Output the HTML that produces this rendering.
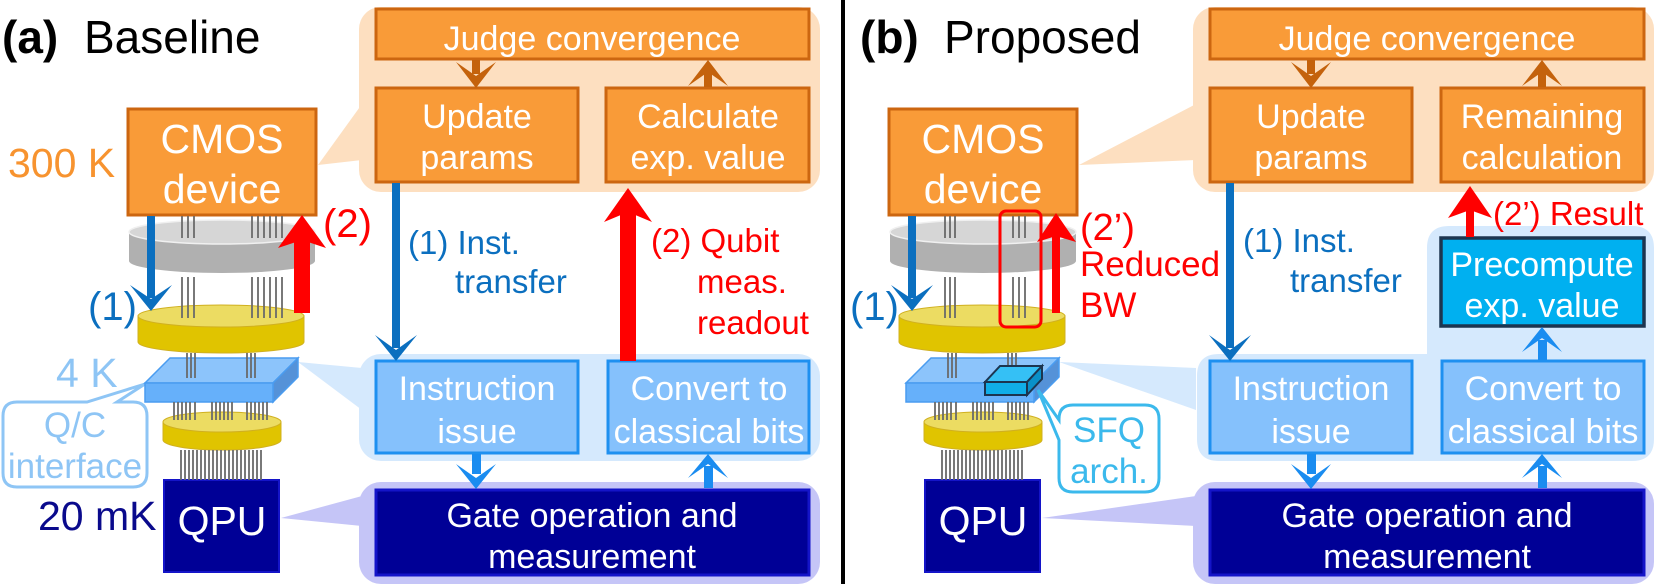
<!DOCTYPE html>
<html><head><meta charset="utf-8"><style>
html,body{margin:0;padding:0;background:#fff;}
svg{display:block;}
text{font-family:"Liberation Sans",sans-serif;}
.bt{fill:#fff;font-size:34px;text-anchor:middle;}
</style></head><body>
<svg width="1661" height="584" viewBox="0 0 1661 584" xmlns="http://www.w3.org/2000/svg">

<!-- ===== LEFT PANEL ===== -->
<text x="2" y="53" font-size="46" font-weight="bold">(a)</text>
<text x="84" y="53" font-size="46">Baseline</text>

<polygon points="318,165 362,104 362,160" fill="#fddfc0"/>
<polygon points="298,362 362,368 362,410" fill="#d5e9fd"/>
<polygon points="281,518 362,496 362,526" fill="#c5c5f7"/>
<rect x="359" y="7" width="461" height="185" rx="22" fill="#fddfc0"/>
<rect x="359" y="354" width="461" height="107" rx="22" fill="#d5e9fd"/>
<rect x="359" y="482" width="461" height="102" rx="22" fill="#c5c5f7"/>

<g fill="#f99b38" stroke="#cc6610" stroke-width="3">
<rect x="376" y="9" width="433" height="50"/>
<rect x="376" y="88" width="202" height="94"/>
<rect x="606" y="88" width="203" height="94"/>
</g>
<text class="bt" x="592" y="50">Judge convergence</text>
<text class="bt" x="477" y="128">Update</text>
<text class="bt" x="477" y="169">params</text>
<text class="bt" x="708" y="128">Calculate</text>
<text class="bt" x="708" y="169">exp. value</text>
<g fill="#c4620c">
<rect x="472" y="60" width="8" height="14"/>
<polygon points="456,62 476,76 496,62 476,88"/>
<rect x="704" y="72" width="8" height="15"/>
<polygon points="688,86 708,72 728,86 708,60"/>
</g>

<g fill="#85c1fc" stroke="#1e90f0" stroke-width="3">
<rect x="376" y="361" width="202" height="92"/>
<rect x="608" y="361" width="201" height="92"/>
</g>
<text class="bt" x="477" y="400">Instruction</text>
<text class="bt" x="477" y="443">issue</text>
<text class="bt" x="709" y="400">Convert to</text>
<text class="bt" x="709" y="443">classical bits</text>
<rect x="376" y="490" width="433" height="85" fill="#000096" stroke="#1414c8" stroke-width="3"/>
<text class="bt" x="592" y="527">Gate operation and</text>
<text class="bt" x="592" y="568">measurement</text>
<g fill="#1a8cf0">
<rect x="472" y="454" width="9" height="20"/>
<polygon points="456,464 476,478 496,464 476,489"/>
<rect x="704" y="466" width="9" height="22"/>
<polygon points="688,478 708,464 728,478 708,454"/>
</g>

<rect x="392" y="183" width="8" height="165" fill="#0b6fbf"/>
<polygon points="375,335 396,350 417,335 396,361" fill="#0b6fbf"/>
<text x="408" y="254" font-size="33" fill="#0b6fbf">(1) Inst.</text>
<text x="455" y="293" font-size="33" fill="#0b6fbf">transfer</text>
<rect x="620" y="205" width="16" height="156" fill="#ff0000"/>
<polygon points="604,222 628,188 652,222 628,212" fill="#ff0000"/>
<text x="651" y="252" font-size="33" fill="#ff0000">(2) Qubit</text>
<text x="697" y="293" font-size="33" fill="#ff0000">meas.</text>
<text x="697" y="334" font-size="33" fill="#ff0000">readout</text>

<text x="8" y="177" font-size="41" fill="#f7932f">300 K</text>
<text x="56" y="387" font-size="41" fill="#8ec5f5">4 K</text>
<text x="38" y="530" font-size="41" fill="#0a0a8c">20 mK</text>

<path d="M 20,402 L 87,402 L 145,384 L 117,402 L 133,402 Q 147,402 147,416 L 147,473 Q 147,487 133,487 L 17,487 Q 3,487 3,473 L 3,416 Q 3,402 17,402 Z" fill="#fff" stroke="#8ec5f5" stroke-width="3"/>
<text x="75" y="437" font-size="35" fill="#8ec5f5" text-anchor="middle">Q/C</text>
<text x="75" y="478" font-size="35" fill="#8ec5f5" text-anchor="middle">interface</text>

<g id="cryoL">
<rect x="128" y="109" width="188" height="106" fill="#f99b38" stroke="#cc6610" stroke-width="3"/>
<text class="bt" x="222" y="153" style="font-size:41px">CMOS</text>
<text class="bt" x="222" y="203" style="font-size:41px">device</text>
<path d="M129,232 L129,261 A93,12 0 0 0 315,261 L315,232 Z" fill="#b0b0b0"/>
<ellipse cx="222" cy="232" rx="93" ry="12" fill="#d6d6d6" stroke="#f0f0f0" stroke-width="1.5"/>
<path d="M138,316 L138,342 A83,11 0 0 0 304,342 L304,316 Z" fill="#e0c400" stroke="#d0b020" stroke-width="1"/>
<ellipse cx="221" cy="316" rx="83" ry="11" fill="#ecdc62" stroke="#d0b020" stroke-width="1"/>
<polygon points="145,383 170,358 298,358 273,383" fill="#8cc4fb" stroke="#4a9cf0" stroke-width="1.5"/>
<polygon points="273,383 298,358 298,377 273,402" fill="#5592d8" stroke="#4a9cf0" stroke-width="1.5"/>
<rect x="145" y="383" width="128" height="19" fill="#66b0fa" stroke="#4a9cf0" stroke-width="1.5"/>
<path d="M163,422 L163,440 A59,10 0 0 0 281,440 L281,422 Z" fill="#e0c400" stroke="#d0b020" stroke-width="1"/>
<ellipse cx="222" cy="422" rx="59" ry="10" fill="#ecdc62" stroke="#d0b020" stroke-width="1"/>
<rect x="164" y="480" width="115" height="92" fill="#000096" stroke="#1414c8" stroke-width="2"/>
<text class="bt" x="222" y="535" style="font-size:41px">QPU</text>
</g>
<g stroke="#6a6a6a" stroke-width="1.8">
<line x1="182" y1="216" x2="182" y2="238"/><line x1="188" y1="216" x2="188" y2="238"/><line x1="194" y1="216" x2="194" y2="238"/>
<line x1="252" y1="216" x2="252" y2="238"/><line x1="258" y1="216" x2="258" y2="238"/><line x1="264" y1="216" x2="264" y2="238"/><line x1="270" y1="216" x2="270" y2="238"/><line x1="276" y1="216" x2="276" y2="238"/><line x1="282" y1="216" x2="282" y2="238"/>
<line x1="182" y1="277" x2="182" y2="318"/><line x1="188" y1="277" x2="188" y2="318"/><line x1="194" y1="277" x2="194" y2="318"/>
<line x1="252" y1="277" x2="252" y2="318"/><line x1="258" y1="277" x2="258" y2="318"/><line x1="264" y1="277" x2="264" y2="318"/><line x1="270" y1="277" x2="270" y2="318"/><line x1="276" y1="277" x2="276" y2="318"/><line x1="282" y1="277" x2="282" y2="318"/>
<line x1="187" y1="353" x2="187" y2="378"/><line x1="191" y1="353" x2="191" y2="378"/><line x1="195" y1="353" x2="195" y2="378"/>
<line x1="247" y1="353" x2="247" y2="378"/><line x1="251" y1="353" x2="251" y2="378"/><line x1="255" y1="353" x2="255" y2="378"/>
<line x1="174" y1="402" x2="174" y2="420"/><line x1="178" y1="402" x2="178" y2="420"/><line x1="182" y1="402" x2="182" y2="420"/><line x1="186" y1="402" x2="186" y2="420"/><line x1="190" y1="402" x2="190" y2="420"/><line x1="195" y1="402" x2="195" y2="420"/>
<line x1="212" y1="402" x2="212" y2="420"/><line x1="216" y1="402" x2="216" y2="420"/><line x1="220" y1="402" x2="220" y2="420"/><line x1="224" y1="402" x2="224" y2="420"/><line x1="228" y1="402" x2="228" y2="420"/><line x1="232" y1="402" x2="232" y2="420"/>
<line x1="247" y1="402" x2="247" y2="420"/><line x1="251" y1="402" x2="251" y2="420"/><line x1="255" y1="402" x2="255" y2="420"/><line x1="259" y1="402" x2="259" y2="420"/><line x1="263" y1="402" x2="263" y2="420"/><line x1="267" y1="402" x2="267" y2="420"/>
<line x1="181" y1="450" x2="181" y2="480"/><line x1="185" y1="450" x2="185" y2="480"/><line x1="189" y1="450" x2="189" y2="480"/><line x1="193" y1="450" x2="193" y2="480"/><line x1="197" y1="450" x2="197" y2="480"/><line x1="201" y1="450" x2="201" y2="480"/><line x1="205" y1="450" x2="205" y2="480"/><line x1="209" y1="450" x2="209" y2="480"/><line x1="213" y1="450" x2="213" y2="480"/><line x1="217" y1="450" x2="217" y2="480"/><line x1="221" y1="450" x2="221" y2="480"/><line x1="225" y1="450" x2="225" y2="480"/><line x1="229" y1="450" x2="229" y2="480"/><line x1="233" y1="450" x2="233" y2="480"/><line x1="237" y1="450" x2="237" y2="480"/><line x1="241" y1="450" x2="241" y2="480"/><line x1="245" y1="450" x2="245" y2="480"/><line x1="249" y1="450" x2="249" y2="480"/><line x1="253" y1="450" x2="253" y2="480"/><line x1="257" y1="450" x2="257" y2="480"/><line x1="261" y1="450" x2="261" y2="480"/>
</g>
<rect x="147" y="216" width="8" height="82" fill="#0b6fbf"/>
<polygon points="130,285 151,299 172,285 151,311" fill="#0b6fbf"/>
<text x="88" y="320" font-size="40" fill="#0b6fbf">(1)</text>
<rect x="294" y="232" width="16" height="81" fill="#ff0000"/>
<polygon points="278,248 302,215 326,248 302,240" fill="#ff0000"/>
<text x="323" y="237" font-size="40" fill="#ff0000">(2)</text>

<rect x="841" y="0" width="4" height="584" fill="#000"/>

<!-- ===== RIGHT PANEL ===== -->
<text x="860" y="53" font-size="46" font-weight="bold">(b)</text>
<text x="944" y="53" font-size="46">Proposed</text>

<polygon points="1079,165 1196,104 1196,160" fill="#fddfc0"/>
<polygon points="1059,362 1196,368 1196,410" fill="#d5e9fd"/>
<polygon points="1042,518 1196,496 1196,526" fill="#c5c5f7"/>
<rect x="1193" y="7" width="461" height="185" rx="22" fill="#fddfc0"/>
<path d="M1197,376 Q1197,354 1219,354 L1427,354 L1427,248 Q1427,226 1449,226 L1632,226 Q1654,226 1654,248 L1654,439 Q1654,461 1632,461 L1219,461 Q1197,461 1197,439 Z" fill="#d5e9fd"/>
<rect x="1193" y="482" width="461" height="102" rx="22" fill="#c5c5f7"/>

<g fill="#f99b38" stroke="#cc6610" stroke-width="3">
<rect x="1210" y="9" width="434" height="50"/>
<rect x="1210" y="88" width="202" height="94"/>
<rect x="1441" y="88" width="203" height="94"/>
</g>
<text class="bt" x="1427" y="50">Judge convergence</text>
<text class="bt" x="1311" y="128">Update</text>
<text class="bt" x="1311" y="169">params</text>
<text class="bt" x="1542" y="128">Remaining</text>
<text class="bt" x="1542" y="169">calculation</text>
<g fill="#c4620c">
<rect x="1307" y="60" width="8" height="14"/>
<polygon points="1291,62 1311,76 1331,62 1311,88"/>
<rect x="1538" y="72" width="8" height="15"/>
<polygon points="1522,86 1542,72 1562,86 1542,60"/>
</g>

<rect x="1441" y="238" width="203" height="88" fill="#00b0f0" stroke="#1c3550" stroke-width="3.5"/>
<text class="bt" x="1542" y="276">Precompute</text>
<text class="bt" x="1542" y="317">exp. value</text>
<rect x="1466" y="205" width="8" height="32" fill="#ff0000"/>
<polygon points="1448,218 1470,186 1492,218 1470,210" fill="#ff0000"/>
<text x="1493" y="225" font-size="33" fill="#ff0000">(2’) Result</text>

<g fill="#85c1fc" stroke="#1e90f0" stroke-width="3">
<rect x="1210" y="361" width="202" height="92"/>
<rect x="1442" y="361" width="202" height="92"/>
</g>
<text class="bt" x="1311" y="400">Instruction</text>
<text class="bt" x="1311" y="443">issue</text>
<text class="bt" x="1543" y="400">Convert to</text>
<text class="bt" x="1543" y="443">classical bits</text>
<rect x="1210" y="490" width="434" height="85" fill="#000096" stroke="#1414c8" stroke-width="3"/>
<text class="bt" x="1427" y="527">Gate operation and</text>
<text class="bt" x="1427" y="568">measurement</text>
<g fill="#1a8cf0">
<rect x="1307" y="454" width="9" height="20"/>
<polygon points="1291,464 1311,478 1331,464 1311,489"/>
<rect x="1538" y="466" width="9" height="22"/>
<polygon points="1522,478 1542,464 1562,478 1542,454"/>
<rect x="1538" y="340" width="9" height="20"/>
<polygon points="1522,352 1542,338 1562,352 1542,327"/>
</g>
<rect x="1226" y="183" width="8" height="165" fill="#0b6fbf"/>
<polygon points="1209,335 1230,350 1251,335 1230,361" fill="#0b6fbf"/>
<text x="1243" y="252" font-size="33" fill="#0b6fbf">(1) Inst.</text>
<text x="1290" y="292" font-size="33" fill="#0b6fbf">transfer</text>

<use href="#cryoL" x="761" y="0"/>
<g stroke="#6a6a6a" stroke-width="1.8">
<line x1="945" y1="216" x2="945" y2="238"/><line x1="950" y1="216" x2="950" y2="238"/><line x1="955" y1="216" x2="955" y2="238"/>
<line x1="1013" y1="216" x2="1013" y2="238"/><line x1="1019" y1="216" x2="1019" y2="238"/><line x1="1025" y1="216" x2="1025" y2="238"/>
<line x1="945" y1="277" x2="945" y2="318"/><line x1="950" y1="277" x2="950" y2="318"/><line x1="955" y1="277" x2="955" y2="318"/>
<line x1="1013" y1="277" x2="1013" y2="318"/><line x1="1019" y1="277" x2="1019" y2="318"/><line x1="1025" y1="277" x2="1025" y2="318"/>
<line x1="948" y1="353" x2="948" y2="378"/><line x1="952" y1="353" x2="952" y2="378"/><line x1="956" y1="353" x2="956" y2="378"/>
<line x1="1008" y1="353" x2="1008" y2="376"/><line x1="1012" y1="353" x2="1012" y2="376"/><line x1="1016" y1="353" x2="1016" y2="376"/>
<line x1="935" y1="402" x2="935" y2="420"/><line x1="939" y1="402" x2="939" y2="420"/><line x1="943" y1="402" x2="943" y2="420"/><line x1="947" y1="402" x2="947" y2="420"/><line x1="951" y1="402" x2="951" y2="420"/><line x1="956" y1="402" x2="956" y2="420"/>
<line x1="973" y1="402" x2="973" y2="420"/><line x1="977" y1="402" x2="977" y2="420"/><line x1="981" y1="402" x2="981" y2="420"/><line x1="985" y1="402" x2="985" y2="420"/><line x1="989" y1="402" x2="989" y2="420"/><line x1="993" y1="402" x2="993" y2="420"/>
<line x1="1008" y1="402" x2="1008" y2="420"/><line x1="1012" y1="402" x2="1012" y2="420"/><line x1="1016" y1="402" x2="1016" y2="420"/><line x1="1020" y1="402" x2="1020" y2="420"/><line x1="1024" y1="402" x2="1024" y2="420"/><line x1="1028" y1="402" x2="1028" y2="420"/>
<line x1="942" y1="450" x2="942" y2="480"/><line x1="946" y1="450" x2="946" y2="480"/><line x1="950" y1="450" x2="950" y2="480"/><line x1="954" y1="450" x2="954" y2="480"/><line x1="958" y1="450" x2="958" y2="480"/><line x1="962" y1="450" x2="962" y2="480"/><line x1="966" y1="450" x2="966" y2="480"/><line x1="970" y1="450" x2="970" y2="480"/><line x1="974" y1="450" x2="974" y2="480"/><line x1="978" y1="450" x2="978" y2="480"/><line x1="982" y1="450" x2="982" y2="480"/><line x1="986" y1="450" x2="986" y2="480"/><line x1="990" y1="450" x2="990" y2="480"/><line x1="994" y1="450" x2="994" y2="480"/><line x1="998" y1="450" x2="998" y2="480"/><line x1="1002" y1="450" x2="1002" y2="480"/><line x1="1006" y1="450" x2="1006" y2="480"/><line x1="1010" y1="450" x2="1010" y2="480"/><line x1="1014" y1="450" x2="1014" y2="480"/><line x1="1018" y1="450" x2="1018" y2="480"/><line x1="1022" y1="450" x2="1022" y2="480"/>
</g>
<polygon points="985,382 1000,366 1042,366 1027,382" fill="#35c0f5" stroke="#1c3550" stroke-width="2"/>
<polygon points="1027,382 1042,366 1042,379 1027,395" fill="#0a90c8" stroke="#1c3550" stroke-width="2"/>
<rect x="985" y="382" width="42" height="13" fill="#10aee8" stroke="#1c3550" stroke-width="2"/>
<path d="M1073,405 L1145,405 Q1159,405 1159,419 L1159,478 Q1159,492 1145,492 L1073,492 Q1059,492 1059,478 L1059,440 L1038,390 L1059,420 L1059,419 Q1059,405 1073,405 Z" fill="#fff" stroke="#3bb9ec" stroke-width="3"/>
<text x="1109" y="442" font-size="35" fill="#3bb9ec" text-anchor="middle">SFQ</text>
<text x="1109" y="483" font-size="35" fill="#3bb9ec" text-anchor="middle">arch.</text>

<rect x="908" y="216" width="8" height="82" fill="#0b6fbf"/>
<polygon points="891,285 912,299 933,285 912,311" fill="#0b6fbf"/>
<text x="850" y="320" font-size="40" fill="#0b6fbf">(1)</text>
<rect x="1052" y="228" width="8" height="85" fill="#ff0000"/>
<polygon points="1037,242 1056,213 1076,242 1056,236" fill="#ff0000"/>
<rect x="1000" y="211" width="41" height="116" rx="6" fill="none" stroke="#ff0000" stroke-width="3"/>
<text x="1080" y="240" font-size="38" fill="#ff0000">(2’)</text>
<text x="1080" y="276" font-size="35" fill="#ff0000">Reduced</text>
<text x="1080" y="317" font-size="35" fill="#ff0000">BW</text>
</svg>
</body></html>
